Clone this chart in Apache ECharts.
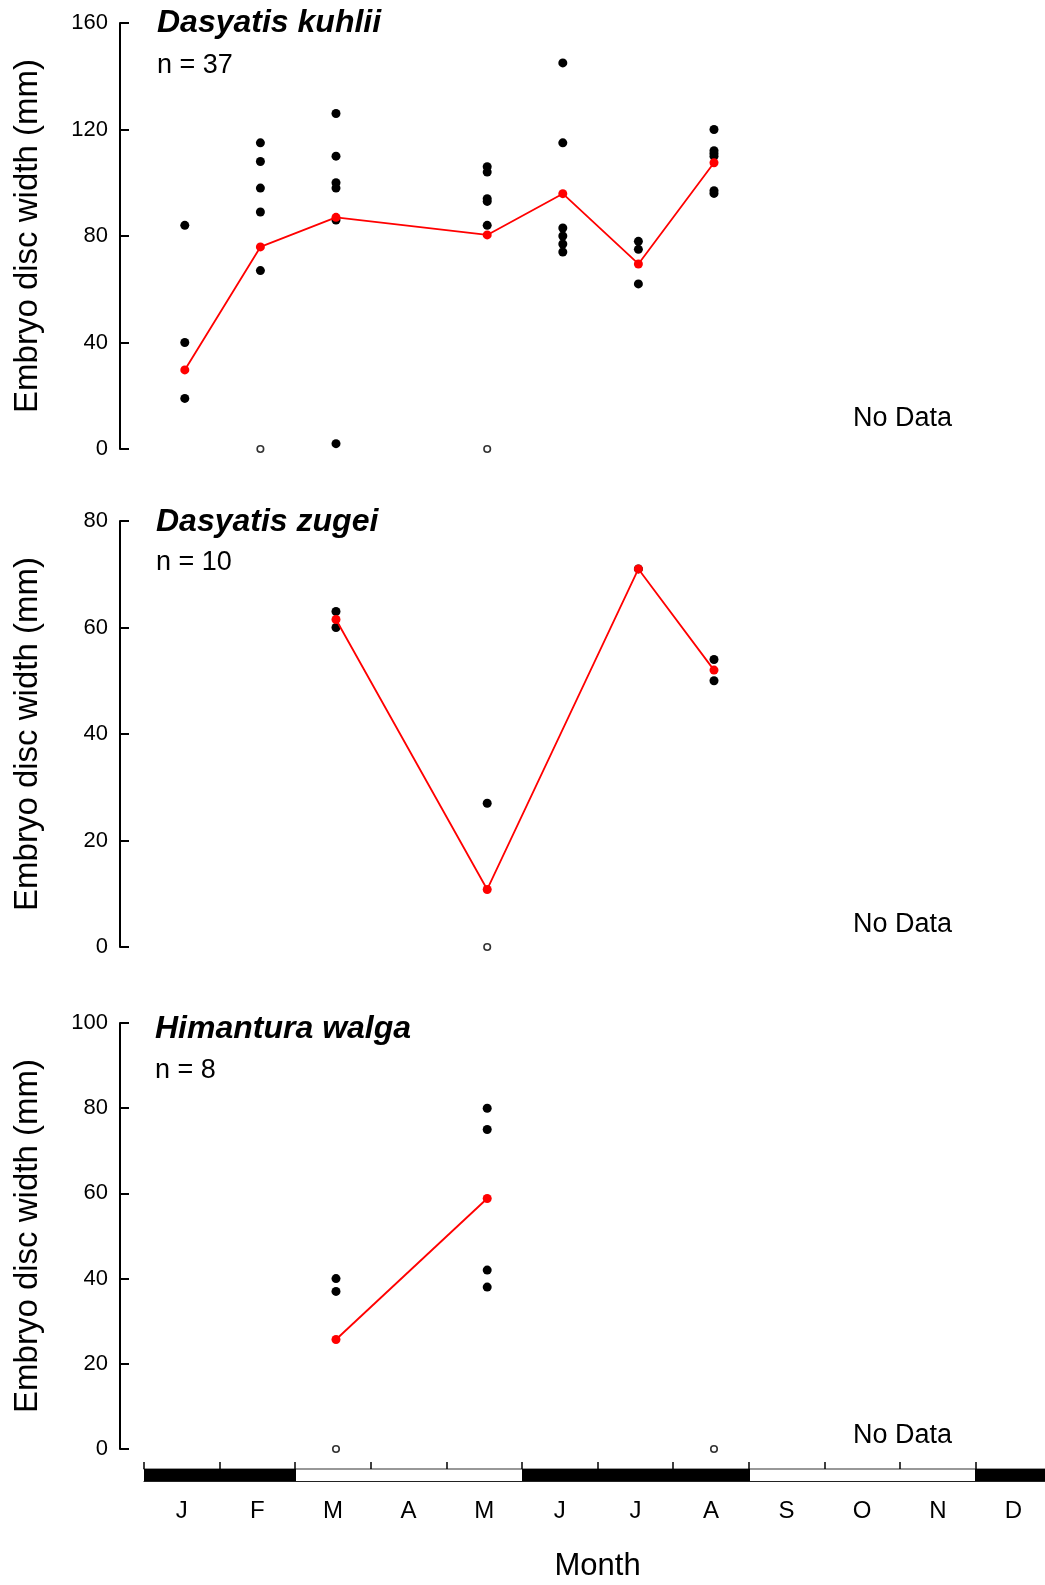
<!DOCTYPE html>
<html>
<head>
<meta charset="utf-8">
<script src="https://cdn.jsdelivr.net/npm/echarts@6/dist/echarts.min.js"></script>
<style>
html,body{margin:0;padding:0;background:#fff;overflow:hidden;width:1045px;height:1585px;}
#chart{width:1100px;height:1585px;}
</style>
</head>
<body>
<div id="chart"></div>
<script>
// ---- data ----
const monthKeys = ['Jan','Feb','Mar','Apr','May','Jun','Jul','Aug','Sep','Oct','Nov','Dec'];
const monthLabels = ['J','F','M','A','M','J','J','A','S','O','N','D'];
const darkSeason = [1,1,0,0,0,1,1,1,0,0,0,1];

const speciesNames = ['Dasyatis kuhlii','Dasyatis zugei','Himantura walga'];
const sampleSizes = ['n = 37','n = 10','n = 8'];
const yMaxes = [160, 80, 100];
const yIntervals = [40, 20, 20];

const kuhliiWidths = [['Jan',84],['Jan',40],['Jan',19],
  ['Feb',115],['Feb',108],['Feb',98],['Feb',89],['Feb',67],
  ['Mar',126],['Mar',110],['Mar',100],['Mar',98],['Mar',86],['Mar',2],
  ['May',106],['May',104],['May',94],['May',93],['May',84],
  ['Jun',145],['Jun',115],['Jun',83],['Jun',80],['Jun',77],['Jun',74],
  ['Jul',78],['Jul',75],['Jul',62],
  ['Aug',120],['Aug',112],['Aug',111],['Aug',110],['Aug',97],['Aug',96]];
const kuhliiEmpty = [['Feb',0],['May',0]];
const kuhliiMean = [['Jan',29.7],['Feb',75.9],['Mar',87],['May',80.4],['Jun',95.9],['Jul',69.5],['Aug',107.5]];

const zugeiWidths = [['Mar',63],['Mar',60],['May',27],['Jul',71],['Aug',54],['Aug',50]];
const zugeiEmpty = [['May',0]];
const zugeiMean = [['Mar',61.5],['May',10.8],['Jul',71],['Aug',52]];

const walgaWidths = [['Mar',40],['Mar',37],['May',80],['May',75],['May',42],['May',38]];
const walgaEmpty = [['Mar',0],['Aug',0]];
const walgaMean = [['Mar',25.7],['May',58.8]];

const panelWidths = [kuhliiWidths, zugeiWidths, walgaWidths];
const panelEmpty = [kuhliiEmpty, zugeiEmpty, walgaEmpty];
const panelMean = [kuhliiMean, zugeiMean, walgaMean];

// ---- layout ----
const FONT = 'Liberation Sans, Arial, Helvetica, sans-serif';
const panelTops = [23, 521, 1023];
const panelH = 426;
const panelLeft = 147;
const bandW = 75.6;
const axisX = 120;
const titleY = [22.5, 521, 1028];
const nY = [64.5, 562, 1070];
const titleX = [157, 156, 155];
const noDataY = [418, 924, 1435];

const grids = [], xAxes = [], yAxes = [], series = [], graphics = [];
for (let p = 0; p < 3; p++) {
  grids.push({left: panelLeft, top: panelTops[p], width: bandW*12, height: panelH});
  xAxes.push({type:'category', gridIndex:p, data: monthKeys, boundaryGap:true, show:false});
  yAxes.push({
    type:'value', gridIndex:p, min:0, max:yMaxes[p], interval:yIntervals[p],
    offset: panelLeft - axisX,
    name:'Embryo disc width (mm)', nameLocation:'middle', nameGap:76,
    nameTextStyle:{fontFamily:FONT, fontSize:33, color:'#000'},
    axisLine:{show:true, lineStyle:{color:'#000', width:2}},
    axisTick:{show:true, inside:true, length:9, lineStyle:{color:'#000', width:2}},
    axisLabel:{fontFamily:FONT, fontSize:22, color:'#000', margin:12},
    splitLine:{show:false}
  });
  series.push({type:'scatter', xAxisIndex:p, yAxisIndex:p, data: panelWidths[p],
    symbol:'circle', symbolSize:9, itemStyle:{color:'#000', opacity:1}, z:3});
  series.push({type:'scatter', xAxisIndex:p, yAxisIndex:p, data: panelEmpty[p],
    symbol:'circle', symbolSize:6.5, itemStyle:{color:'#fff', borderColor:'#000', borderWidth:1.6}, z:3});
  series.push({type:'line', xAxisIndex:p, yAxisIndex:p, data: panelMean[p],
    symbol:'circle', symbolSize:9, showSymbol:true,
    lineStyle:{color:'#ff0000', width:1.8}, itemStyle:{color:'#ff0000'}, z:4});

  graphics.push({type:'text', x:titleX[p], y:titleY[p]+1, z:10,
    style:{text:speciesNames[p], fontFamily:FONT, fontSize:32, fontWeight:'bold', fontStyle:'italic',
      fill:'#000', align:'left', verticalAlign:'middle', textAlign:'left', textVerticalAlign:'middle'}});
  graphics.push({type:'text', x:titleX[p], y:nY[p]+1, z:10,
    style:{text:sampleSizes[p], fontFamily:FONT, fontSize:27,
      fill:'#000', align:'left', verticalAlign:'middle', textAlign:'left', textVerticalAlign:'middle'}});
  graphics.push({type:'text', x:853, y:noDataY[p]+1, z:10,
    style:{text:'No Data', fontFamily:FONT, fontSize:27,
      fill:'#000', align:'left', verticalAlign:'middle', textAlign:'left', textVerticalAlign:'middle'}});
}

// tick strip above the season bar
grids.push({left:144, top:1462, width:bandW*12, height:7});
xAxes.push({type:'category', gridIndex:3, data:monthKeys, position:'bottom', boundaryGap:true,
  axisLine:{show:true, lineStyle:{color:'#777', width:1.5}},
  axisTick:{show:true, inside:true, length:7, lineStyle:{color:'#000', width:1.5}},
  axisLabel:{show:false}});
yAxes.push({type:'value', gridIndex:3, min:0, max:1, show:false});

// season bar
grids.push({left:144, top:1469, width:bandW*12, height:12});
xAxes.push({type:'category', gridIndex:4, data:monthKeys, position:'bottom', boundaryGap:true,
  axisLine:{show:true, lineStyle:{color:'#222', width:1.2}},
  axisTick:{show:false},
  axisLabel:{fontFamily:FONT, fontSize:24, color:'#000', margin:18,
    formatter:(v, i) => monthLabels[i]},
  name:'Month', nameLocation:'middle', nameGap:70,
  nameTextStyle:{fontFamily:FONT, fontSize:31, color:'#000'}});
yAxes.push({type:'value', gridIndex:4, min:0, max:1, show:false});
series.push({
  type:'custom', xAxisIndex:4, yAxisIndex:4, z:2,
  data: darkSeason.map((d, i) => [i, 1, d]),
  renderItem: function (params, api) {
    if (!api.value(2)) return null;
    const topMid = api.coord([api.value(0), api.value(1)]);
    const bot = api.coord([api.value(0), 0]);
    const w = api.size([1, 0])[0];
    return {type:'rect',
      shape:{x: Math.floor(topMid[0] - w/2), y: topMid[1], width: Math.ceil(w) + 1, height: bot[1] - topMid[1]},
      style:{fill:'#000'}};
  }
});

const chart = echarts.init(document.getElementById('chart'), null, {renderer:'canvas'});
chart.setOption({
  animation:false,
  backgroundColor:'#fff',
  grid:grids, xAxis:xAxes, yAxis:yAxes, series:series, graphic:graphics
});
</script>
</body>
</html>
